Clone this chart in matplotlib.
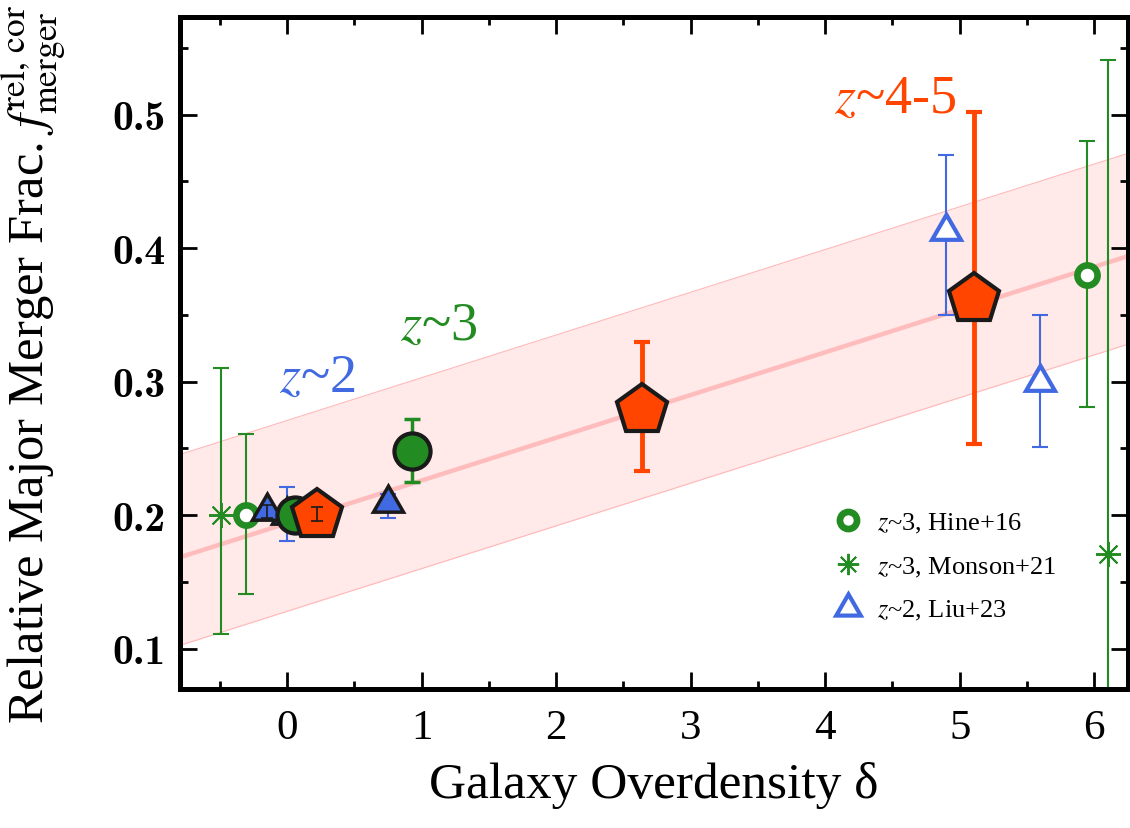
import numpy as np
import matplotlib
matplotlib.use("Agg")
import matplotlib.pyplot as plt
from matplotlib.ticker import MultipleLocator, FixedLocator

plt.rcParams['font.family'] = ['Liberation Serif', 'DejaVu Serif']
plt.rcParams['mathtext.fontset'] = 'stix'

GREEN = '#228B22'
BLUE = '#4169E1'
ORANGE = '#FF4500'
EDGE = '#1a1a1a'

# ---- data ----
# this work, z~3 (filled green circles)
z3_x = [0.06, 0.93]
z3_y = [0.200, 0.248]
z3_lo = [0.200, 0.225]
z3_hi = [0.200, 0.272]

# this work, z~2 (filled blue triangles)
z2_x = [0.00, -0.15, 0.75]
z2_y = [0.200, 0.203, 0.209]
z2_lo = [0.181, 0.198, 0.198]
z2_hi = [0.221, 0.208, 0.216]

# this work, z~4-5 (orange pentagons)
z45_x = [0.22, 2.64, 5.11]
z45_y = [0.200, 0.279, 0.362]
z45_lo = [0.196, 0.233, 0.253]
z45_hi = [0.206, 0.330, 0.502]

# Hine+16
hine_x = [-0.31, 5.95]
hine_y = [0.200, 0.380]
hine_lo = [0.141, 0.281]
hine_hi = [0.261, 0.480]

# Monson+21
monson_x = [-0.49, 6.10]
monson_y = [0.200, 0.171]
monson_lo = [0.111, -0.20]
monson_hi = [0.310, 0.541]

# Liu+23
liu_x = [4.90, 5.60]
liu_y = [0.413, 0.300]
liu_lo = [0.350, 0.251]
liu_hi = [0.470, 0.350]

# linear fit and its band
fit_slope = 0.032
fit_icpt = 0.194
band_up = 0.077
band_dn = 0.066

x_ticks = [0, 1, 2, 3, 4, 5, 6]
y_ticks = [0.1, 0.2, 0.3, 0.4, 0.5]


def yerr(y, lo, hi):
    y = np.asarray(y)
    return [y - np.asarray(lo), np.asarray(hi) - y]


fig = plt.figure(figsize=(11.3, 8.29), dpi=100)
ax = fig.add_axes([0.159, 0.168, 0.839, 0.810])
ax.set_xlim(-0.80, 6.25)
ax.set_ylim(0.070, 0.573)

# fit band
xx = np.linspace(-0.80, 6.25, 50)
yy = fit_icpt + fit_slope * xx
ax.fill_between(xx, yy - band_dn, yy + band_up, color='#ffe9e9', lw=0, zorder=1)
ax.plot(xx, yy + band_up, color='#ffb8b8', lw=0.8, zorder=1.1)
ax.plot(xx, yy - band_dn, color='#ffb8b8', lw=0.8, zorder=1.1)
ax.plot(xx, yy, color='#ffbcbc', lw=3.2, zorder=1.2)

# literature
ax.errorbar(monson_x, monson_y, yerr=yerr(monson_y, monson_lo, monson_hi),
            fmt='none', ecolor=GREEN, elinewidth=1.5, capsize=6, capthick=1.5, zorder=2)
ax.plot(monson_x, monson_y, ls='none', marker=(8, 2, 0), ms=18, mew=1.4,
        color=GREEN, zorder=3, label=r'$z$~3, Monson+21')

ax.errorbar(hine_x, hine_y, yerr=yerr(hine_y, hine_lo, hine_hi),
            fmt='none', ecolor=GREEN, elinewidth=1.5, capsize=6, capthick=1.5, zorder=2)
ax.plot(hine_x, hine_y, ls='none', marker='o', ms=14.5, mew=4.8,
        mfc='white', mec=GREEN, zorder=3, label=r'$z$~3, Hine+16')

ax.errorbar(liu_x, liu_y, yerr=yerr(liu_y, liu_lo, liu_hi),
            fmt='none', ecolor=BLUE, elinewidth=1.5, capsize=6, capthick=1.5, zorder=2)
ax.plot(liu_x, liu_y, ls='none', marker=(3, 0, 0), ms=24, mew=3,
        mfc='white', mec=BLUE, zorder=3, label=r'$z$~2, Liu+23')

# this work
ax.errorbar(z2_x[:1], z2_y[:1], yerr=yerr(z2_y[:1], z2_lo[:1], z2_hi[:1]),
            fmt='none', ecolor=BLUE, elinewidth=1.5, capsize=6, capthick=1.5, zorder=4)
ax.errorbar(z2_x[2:], z2_y[2:], yerr=yerr(z2_y[2:], z2_lo[2:], z2_hi[2:]),
            fmt='none', ecolor=BLUE, elinewidth=1.5, capsize=6, capthick=1.5, zorder=4)
ax.plot(z2_x, z2_y, ls='none', marker=(3, 0, 0), ms=25, mew=2.5,
        mfc=BLUE, mec=EDGE, zorder=5)
ax.errorbar(z2_x[1:2], z2_y[1:2], yerr=yerr(z2_y[1:2], z2_lo[1:2], z2_hi[1:2]),
            fmt='none', ecolor=EDGE, elinewidth=1.2, capsize=4, capthick=1.2, zorder=5.5)

ax.errorbar(z3_x, z3_y, yerr=yerr(z3_y, z3_lo, z3_hi),
            fmt='none', ecolor=GREEN, elinewidth=2.5, capsize=6, capthick=2.5, zorder=6)
ax.plot(z3_x, z3_y, ls='none', marker='o', ms=26, mew=3,
        mfc=GREEN, mec=EDGE, zorder=7)

ax.errorbar(z45_x[1:], z45_y[1:], yerr=yerr(z45_y[1:], z45_lo[1:], z45_hi[1:]),
            fmt='none', ecolor=ORANGE, elinewidth=3.5, capsize=6, capthick=3, zorder=8)
ax.plot(z45_x, z45_y, ls='none', marker='p', ms=38, mew=3,
        mfc=ORANGE, mec=EDGE, zorder=9)
ax.errorbar(z45_x[:1], z45_y[:1], yerr=yerr(z45_y[:1], z45_lo[:1], z45_hi[:1]),
            fmt='none', ecolor=EDGE, elinewidth=1.2, capsize=4, capthick=1.2, zorder=10)

# redshift labels
ax.text(0.22, 0.303, r'$z$~2', color=BLUE, fontsize=39, ha='center', va='center')
ax.text(1.13, 0.342, r'$z$~3', color=GREEN, fontsize=39, ha='center', va='center')
ax.text(4.52, 0.512, r'$z$~4-5', color=ORANGE, fontsize=39, ha='center', va='center')

# legend
handles, labels = ax.get_legend_handles_labels()
order = [1, 0, 2]
ax.legend([handles[i] for i in order], [labels[i] for i in order],
          loc='upper left', bbox_to_anchor=(0.677, 0.285), frameon=False,
          fontsize=19, handlelength=1.0, handletextpad=0.6, labelspacing=0.75,
          borderpad=0, markerscale=0.85)

# axes styling
for s in ax.spines.values():
    s.set_linewidth(3.6)
ax.xaxis.set_major_locator(FixedLocator(x_ticks))
ax.xaxis.set_minor_locator(MultipleLocator(0.5))
ax.yaxis.set_major_locator(FixedLocator(y_ticks))
ax.yaxis.set_minor_locator(MultipleLocator(0.05))
ax.tick_params(which='both', direction='in', top=True, right=True, width=2)
ax.tick_params(which='major', length=12)
ax.tick_params(which='minor', length=6)
ax.tick_params(axis='x', which='major', labelsize=31, pad=14)
ax.tick_params(axis='y', which='major', labelsize=30, pad=10)
ax.set_yticklabels(['%.1f' % v for v in y_ticks], fontfamily='cmb10')

ax.set_xlabel('Galaxy Overdensity δ', fontsize=37, labelpad=10)
ax.set_ylabel(r'Relative Major Merger Frac. $f^{\rm rel,\,cor}_{\rm merger}$',
              fontsize=36.5)
ax.yaxis.set_label_coords(-0.118, 0.485)

fig.savefig('out.png', dpi=100)
